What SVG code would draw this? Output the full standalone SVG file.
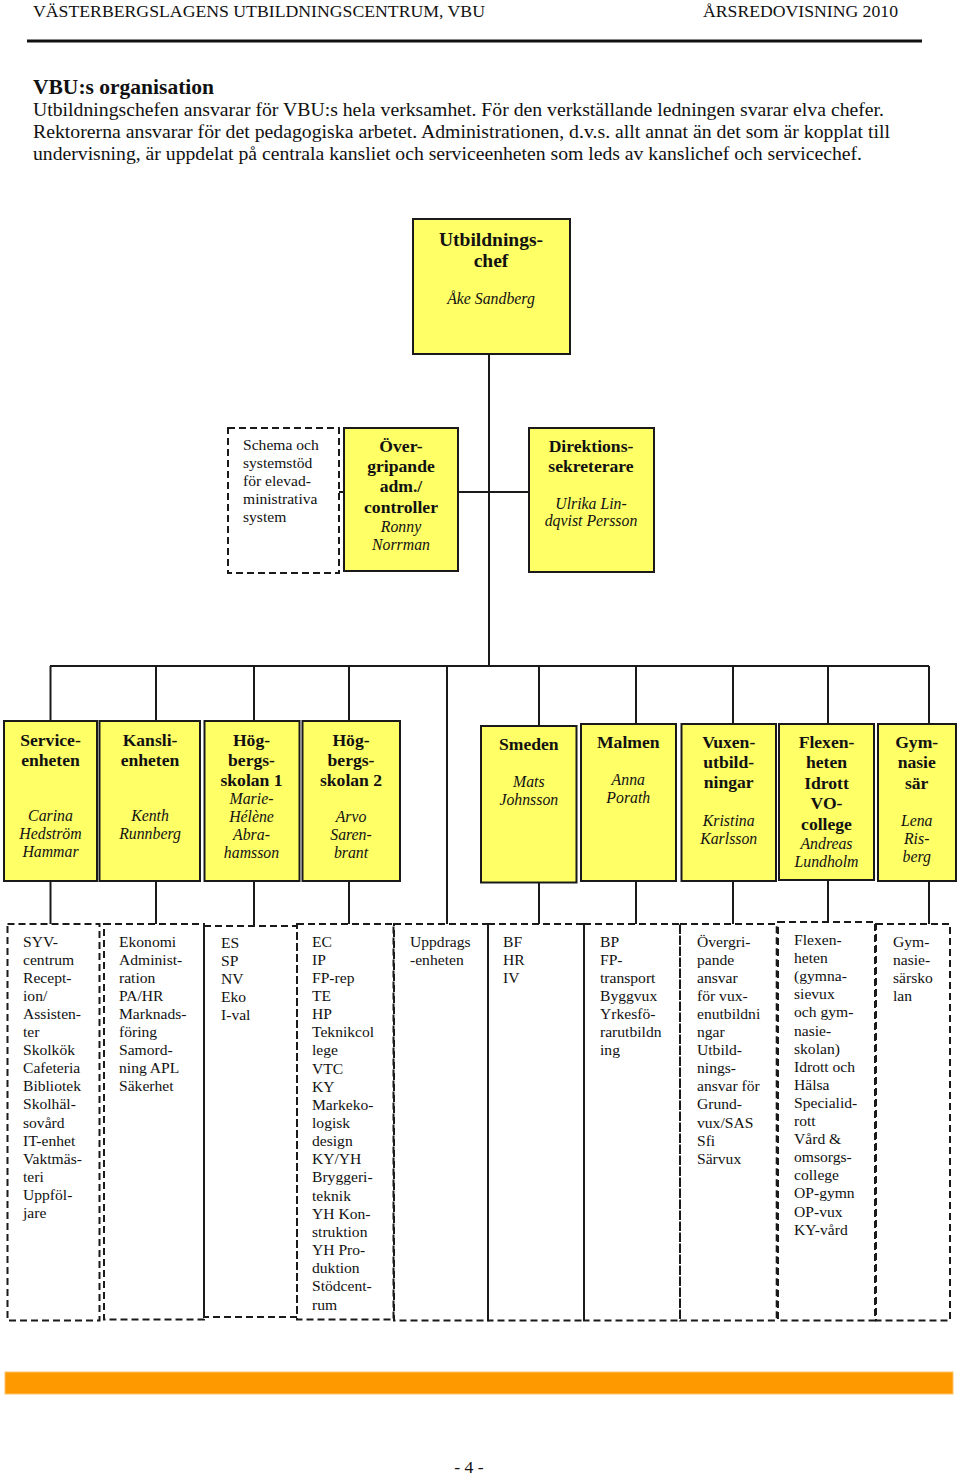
<svg xmlns="http://www.w3.org/2000/svg" width="960" height="1475" viewBox="0 0 960 1475">
<style>
text{font-family:"Liberation Serif","Times New Roman",serif;fill:#111}
.hdr{font-size:17.7px}
.ttl{font-size:21.5px;font-weight:bold}
.body{font-size:19.7px}
.t{font-size:17.6px;font-weight:bold;text-anchor:middle}
.tb{font-size:19.5px;font-weight:bold;text-anchor:middle}
.n{font-size:15.8px;font-style:italic;text-anchor:middle}
.l{font-size:15.6px}
.box{fill:#FFFF66;stroke:#1a1a1a;stroke-width:2}
.dash{fill:none;stroke:#1a1a1a;stroke-width:2;stroke-dasharray:7 4}
.conn{stroke:#1a1a1a;stroke-width:2;fill:none}
</style>
<rect width="960" height="1475" fill="#fff"/>
<g id="page-header">
<text class="hdr" x="33" y="17" textLength="452" lengthAdjust="spacingAndGlyphs">VÄSTERBERGSLAGENS UTBILDNINGSCENTRUM, VBU</text>
<text class="hdr" x="703" y="17" textLength="195" lengthAdjust="spacingAndGlyphs">ÅRSREDOVISNING 2010</text>
<line x1="27" y1="41" x2="922" y2="41" stroke="#111" stroke-width="3"/>
<text class="ttl" x="33" y="94" textLength="181" lengthAdjust="spacingAndGlyphs">VBU:s organisation</text>
<text class="body" x="33" y="116" textLength="851" lengthAdjust="spacingAndGlyphs">Utbildningschefen ansvarar för VBU:s hela verksamhet. För den verkställande ledningen svarar elva chefer.</text>
<text class="body" x="33" y="138" textLength="857" lengthAdjust="spacingAndGlyphs">Rektorerna ansvarar för det pedagogiska arbetet. Administrationen, d.v.s. allt annat än det som är kopplat till</text>
<text class="body" x="33" y="160" textLength="829" lengthAdjust="spacingAndGlyphs">undervisning, är uppdelat på centrala kansliet och serviceenheten som leds av kanslichef och servicechef.</text>
</g>
<g id="connectors">
<line class="conn" x1="489" y1="354" x2="489" y2="666"/>
<line class="conn" x1="339" y1="492" x2="344" y2="492"/>
<line class="conn" x1="458" y1="492" x2="529" y2="492"/>
<line class="conn" x1="50" y1="666" x2="929" y2="666"/>
<line class="conn" x1="50.5" y1="666" x2="50.5" y2="721"/>
<line class="conn" x1="156" y1="666" x2="156" y2="721"/>
<line class="conn" x1="254" y1="666" x2="254" y2="721"/>
<line class="conn" x1="349" y1="666" x2="349" y2="721"/>
<line class="conn" x1="447" y1="666" x2="447" y2="924"/>
<line class="conn" x1="539" y1="666" x2="539" y2="726"/>
<line class="conn" x1="636" y1="666" x2="636" y2="724"/>
<line class="conn" x1="733" y1="666" x2="733" y2="724"/>
<line class="conn" x1="828" y1="666" x2="828" y2="724"/>
<line class="conn" x1="929" y1="666" x2="929" y2="724"/>
<line class="conn" x1="50.5" y1="881" x2="50.5" y2="924"/>
<line class="conn" x1="156" y1="881" x2="156" y2="924"/>
<line class="conn" x1="254" y1="881" x2="254" y2="926"/>
<line class="conn" x1="349" y1="881" x2="349" y2="924"/>
<line class="conn" x1="539" y1="882" x2="539" y2="924"/>
<line class="conn" x1="636" y1="881" x2="636" y2="924"/>
<line class="conn" x1="733" y1="881" x2="733" y2="924"/>
<line class="conn" x1="828" y1="880" x2="828" y2="922"/>
<line class="conn" x1="929" y1="881" x2="929" y2="924"/>
</g>
<g id="utbildningschef">
<rect class="box" x="413" y="219" width="157" height="135"/>
<text class="tb" x="491" y="246">Utbildnings-</text>
<text class="tb" x="491" y="267">chef</text>
<text class="n" x="491" y="304">Åke Sandberg</text>
</g>
<g id="schema">
<rect class="dash" x="228" y="428" width="111" height="145"/>
<text class="l" x="243"><tspan x="243" y="450">Schema och</tspan><tspan x="243" y="468">systemstöd</tspan><tspan x="243" y="486">för elevad-</tspan><tspan x="243" y="504">ministrativa</tspan><tspan x="243" y="522">system</tspan></text>
</g>
<g id="overgripande">
<rect class="box" x="344" y="428" width="114" height="143"/>
<text class="t" x="401" y="452">Över-</text>
<text class="t" x="401" y="472">gripande</text>
<text class="t" x="401" y="492">adm./</text>
<text class="t" x="401" y="513">controller</text>
<text class="n" x="401" y="532">Ronny</text>
<text class="n" x="401" y="550">Norrman</text>
</g>
<g id="direktion">
<rect class="box" x="529" y="428" width="125" height="144"/>
<text class="t" x="591" y="452">Direktions-</text>
<text class="t" x="591" y="472">sekreterare</text>
<text class="n" x="591" y="509">Ulrika Lin-</text>
<text class="n" x="591" y="526">dqvist Persson</text>
</g>
<g id="serviceenheten">
<rect class="box" x="4" y="721" width="93" height="160"/>
<text class="t" x="50.5" y="746">Service-</text>
<text class="t" x="50.5" y="766">enheten</text>
<text class="n" x="50.5" y="821">Carina</text>
<text class="n" x="50.5" y="839">Hedström</text>
<text class="n" x="50.5" y="857">Hammar</text>
</g>
<g id="kanslienheten">
<rect class="box" x="99.5" y="721" width="100.5" height="160"/>
<text class="t" x="150" y="746">Kansli-</text>
<text class="t" x="150" y="766">enheten</text>
<text class="n" x="150" y="821">Kenth</text>
<text class="n" x="150" y="839">Runnberg</text>
</g>
<g id="hogbergsskolan1">
<rect class="box" x="204.5" y="721" width="95" height="160"/>
<text class="t" x="251.5" y="746">Hög-</text>
<text class="t" x="251.5" y="766">bergs-</text>
<text class="t" x="251.5" y="786">skolan 1</text>
<text class="n" x="251.5" y="804">Marie-</text>
<text class="n" x="251.5" y="822">Hélène</text>
<text class="n" x="251.5" y="840">Abra-</text>
<text class="n" x="251.5" y="858">hamsson</text>
</g>
<g id="hogbergsskolan2">
<rect class="box" x="302.5" y="721" width="97.5" height="160"/>
<text class="t" x="351" y="746">Hög-</text>
<text class="t" x="351" y="766">bergs-</text>
<text class="t" x="351" y="786">skolan 2</text>
<text class="n" x="351" y="822">Arvo</text>
<text class="n" x="351" y="840">Saren-</text>
<text class="n" x="351" y="858">brant</text>
</g>
<g id="smeden">
<rect class="box" x="481" y="726" width="95.5" height="156.5"/>
<text class="t" x="528.8" y="750">Smeden</text>
<text class="n" x="528.8" y="787">Mats</text>
<text class="n" x="528.8" y="805">Johnsson</text>
</g>
<g id="malmen">
<rect class="box" x="581" y="724" width="95" height="157"/>
<text class="t" x="628.3" y="748">Malmen</text>
<text class="n" x="628.3" y="785">Anna</text>
<text class="n" x="628.3" y="803">Porath</text>
</g>
<g id="vuxenutbildningar">
<rect class="box" x="681.5" y="724" width="94.5" height="157"/>
<text class="t" x="728.7" y="748">Vuxen-</text>
<text class="t" x="728.7" y="768">utbild-</text>
<text class="t" x="728.7" y="788">ningar</text>
<text class="n" x="728.7" y="826">Kristina</text>
<text class="n" x="728.7" y="844">Karlsson</text>
</g>
<g id="flexenheten">
<rect class="box" x="779" y="724" width="95" height="156"/>
<text class="t" x="826.5" y="748">Flexen-</text>
<text class="t" x="826.5" y="768">heten</text>
<text class="t" x="826.5" y="789">Idrott</text>
<text class="t" x="826.5" y="809">VO-</text>
<text class="t" x="826.5" y="830">college</text>
<text class="n" x="826.5" y="849">Andreas</text>
<text class="n" x="826.5" y="867">Lundholm</text>
</g>
<g id="gymnasiesar">
<rect class="box" x="878" y="724" width="78" height="157"/>
<text class="t" x="916.7" y="748">Gym-</text>
<text class="t" x="916.7" y="768">nasie</text>
<text class="t" x="916.7" y="789">sär</text>
<text class="n" x="916.7" y="826">Lena</text>
<text class="n" x="916.7" y="844">Ris-</text>
<text class="n" x="916.7" y="862">berg</text>
</g>
<g id="service-list">
<rect class="dash" x="7.5" y="924" width="92" height="396.5"/>
<text class="l"><tspan x="23" y="946.5">SYV-</tspan><tspan x="23" dy="18.1">centrum</tspan><tspan x="23" dy="18.1">Recept-</tspan><tspan x="23" dy="18.1">ion/</tspan><tspan x="23" dy="18.1">Assisten-</tspan><tspan x="23" dy="18.1">ter</tspan><tspan x="23" dy="18.1">Skolkök</tspan><tspan x="23" dy="18.1">Cafeteria</tspan><tspan x="23" dy="18.1">Bibliotek</tspan><tspan x="23" dy="18.1">Skolhäl-</tspan><tspan x="23" dy="18.1">sovård</tspan><tspan x="23" dy="18.1">IT-enhet</tspan><tspan x="23" dy="18.1">Vaktmäs-</tspan><tspan x="23" dy="18.1">teri</tspan><tspan x="23" dy="18.1">Uppföl-</tspan><tspan x="23" dy="18.1">jare</tspan></text>
</g>
<g id="kansli-list">
<rect class="dash" x="104" y="924" width="100" height="395.5"/>
<text class="l"><tspan x="119" y="946.5">Ekonomi</tspan><tspan x="119" dy="18.1">Administ-</tspan><tspan x="119" dy="18.1">ration</tspan><tspan x="119" dy="18.1">PA/HR</tspan><tspan x="119" dy="18.1">Marknads-</tspan><tspan x="119" dy="18.1">föring</tspan><tspan x="119" dy="18.1">Samord-</tspan><tspan x="119" dy="18.1">ning APL</tspan><tspan x="119" dy="18.1">Säkerhet</tspan></text>
</g>
<g id="hog1-list">
<rect class="dash" x="204" y="926" width="93" height="391"/>
<text class="l"><tspan x="221" y="947.5">ES</tspan><tspan x="221" dy="18.1">SP</tspan><tspan x="221" dy="18.1">NV</tspan><tspan x="221" dy="18.1">Eko</tspan><tspan x="221" dy="18.1">I-val</tspan></text>
</g>
<g id="hog2-list">
<rect class="dash" x="297" y="924" width="96.5" height="395.5"/>
<text class="l"><tspan x="312" y="946.5">EC</tspan><tspan x="312" dy="18.15">IP</tspan><tspan x="312" dy="18.15">FP-rep</tspan><tspan x="312" dy="18.15">TE</tspan><tspan x="312" dy="18.15">HP</tspan><tspan x="312" dy="18.15">Teknikcol</tspan><tspan x="312" dy="18.15">lege</tspan><tspan x="312" dy="18.15">VTC</tspan><tspan x="312" dy="18.15">KY</tspan><tspan x="312" dy="18.15">Markeko-</tspan><tspan x="312" dy="18.15">logisk</tspan><tspan x="312" dy="18.15">design</tspan><tspan x="312" dy="18.15">KY/YH</tspan><tspan x="312" dy="18.15">Bryggeri-</tspan><tspan x="312" dy="18.15">teknik</tspan><tspan x="312" dy="18.15">YH Kon-</tspan><tspan x="312" dy="18.15">struktion</tspan><tspan x="312" dy="18.15">YH Pro-</tspan><tspan x="312" dy="18.15">duktion</tspan><tspan x="312" dy="18.15">Stödcent-</tspan><tspan x="312" dy="18.15">rum</tspan></text>
</g>
<g id="uppdragsenheten">
<rect class="dash" x="394" y="924" width="94" height="396.5"/>
<text class="l"><tspan x="410" y="946.5">Uppdrags</tspan><tspan x="410" dy="18.1">-enheten</tspan></text>
</g>
<g id="smeden-list">
<rect class="dash" x="488" y="924" width="96" height="396.5"/>
<text class="l"><tspan x="503" y="946.5">BF</tspan><tspan x="503" dy="18.1">HR</tspan><tspan x="503" dy="18.1">IV</tspan></text>
</g>
<g id="malmen-list">
<rect class="dash" x="584" y="924" width="96" height="396.5"/>
<text class="l"><tspan x="600" y="946.5">BP</tspan><tspan x="600" dy="18.1">FP-</tspan><tspan x="600" dy="18.1">transport</tspan><tspan x="600" dy="18.1">Byggvux</tspan><tspan x="600" dy="18.1">Yrkesfö-</tspan><tspan x="600" dy="18.1">rarutbildn</tspan><tspan x="600" dy="18.1">ing</tspan></text>
</g>
<g id="vuxen-list">
<rect class="dash" x="680" y="924" width="96.7" height="396.5"/>
<text class="l"><tspan x="697" y="946.5">Övergri-</tspan><tspan x="697" dy="18.1">pande</tspan><tspan x="697" dy="18.1">ansvar</tspan><tspan x="697" dy="18.1">för vux-</tspan><tspan x="697" dy="18.1">enutbildni</tspan><tspan x="697" dy="18.1">ngar</tspan><tspan x="697" dy="18.1">Utbild-</tspan><tspan x="697" dy="18.1">nings-</tspan><tspan x="697" dy="18.1">ansvar för</tspan><tspan x="697" dy="18.1">Grund-</tspan><tspan x="697" dy="18.1">vux/SAS</tspan><tspan x="697" dy="18.1">Sfi</tspan><tspan x="697" dy="18.1">Särvux</tspan></text>
</g>
<g id="flex-list">
<rect class="dash" x="778" y="922" width="97" height="398.5"/>
<text class="l"><tspan x="794" y="945">Flexen-</tspan><tspan x="794" dy="18.1">heten</tspan><tspan x="794" dy="18.1">(gymna-</tspan><tspan x="794" dy="18.1">sievux</tspan><tspan x="794" dy="18.1">och gym-</tspan><tspan x="794" dy="18.1">nasie-</tspan><tspan x="794" dy="18.1">skolan)</tspan><tspan x="794" dy="18.1">Idrott och</tspan><tspan x="794" dy="18.1">Hälsa</tspan><tspan x="794" dy="18.1">Specialid-</tspan><tspan x="794" dy="18.1">rott</tspan><tspan x="794" dy="18.1">Vård &amp;</tspan><tspan x="794" dy="18.1">omsorgs-</tspan><tspan x="794" dy="18.1">college</tspan><tspan x="794" dy="18.1">OP-gymn</tspan><tspan x="794" dy="18.1">OP-vux</tspan><tspan x="794" dy="18.1">KY-vård</tspan></text>
</g>
<g id="gymsar-list">
<rect class="dash" x="876" y="924" width="74" height="396.5"/>
<text class="l"><tspan x="893" y="946.5">Gym-</tspan><tspan x="893" dy="18.1">nasie-</tspan><tspan x="893" dy="18.1">särsko</tspan><tspan x="893" dy="18.1">lan</tspan></text>
</g>
<g id="page-footer">
<rect x="5" y="1372" width="948" height="22" fill="#FF9900" stroke="#FFC266" stroke-width="1"/>
<text class="hdr" x="469" y="1473" text-anchor="middle">- 4 -</text>
</g>
</svg>
